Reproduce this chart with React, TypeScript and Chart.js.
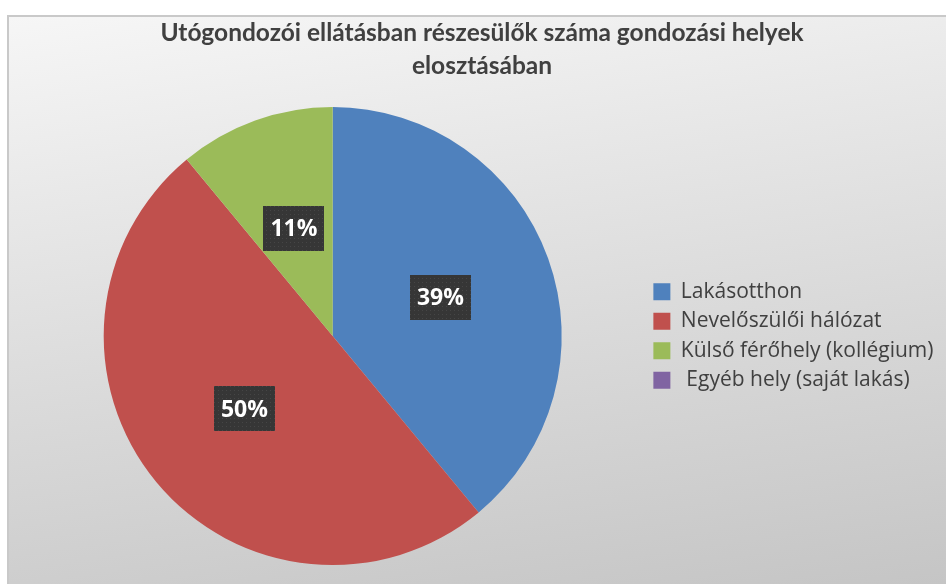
import React, { useEffect, useRef } from "react";
import { Chart, registerables } from "chart.js";

Chart.register(...registerables);

const titleLines = [
  "Utógondozói ellátásban részesülők száma gondozási helyek",
  "elosztásában",
];
const categories = [
  "Lakásotthon",
  "Nevelőszülői hálózat",
  "Külső férőhely (kollégium)",
  " Egyéb hely (saját lakás)",
];
const shares = [39, 50, 11, 0];
const sliceColors = ["#4F81BD", "#C0504D", "#9BBB59", "#8064A2"];

const labelBoxPlugin = {
  id: "labelBoxes",
  afterDatasetsDraw(chart: any) {
    const ctx = chart.ctx as CanvasRenderingContext2D;
    const meta = chart.getDatasetMeta(0);
    const data = chart.data.datasets[0].data as number[];
    const total = data.reduce((a, b) => a + b, 0);
    const pc = document.createElement("canvas");
    pc.width = 4;
    pc.height = 4;
    const pctx = pc.getContext("2d")!;
    pctx.fillStyle = "#363636";
    pctx.fillRect(0, 0, 4, 4);
    pctx.fillStyle = "#464646";
    pctx.fillRect(1, 1, 1, 1);
    const pattern = ctx.createPattern(pc, "repeat")!;
    ctx.save();
    ctx.font = "bold 23px 'Open Sans'";
    ctx.textAlign = "center";
    ctx.textBaseline = "middle";
    meta.data.forEach((arc: any, i: number) => {
      const v = data[i];
      if (!v) return;
      const p = arc.getProps(["x", "y", "startAngle", "endAngle", "outerRadius"], true);
      const mid = (p.startAngle + p.endAngle) / 2;
      const r = p.outerRadius * 0.5;
      const x = p.x + Math.cos(mid) * r;
      const y = p.y + Math.sin(mid) * r;
      const text = Math.round((v / total) * 100) + "%";
      const w = ctx.measureText(text).width + 14;
      const h = 45;
      ctx.fillStyle = pattern;
      ctx.fillRect(Math.round(x - w / 2), Math.round(y - h / 2), Math.round(w), h);
      ctx.fillStyle = "#ffffff";
      ctx.fillText(text, x, y + 1);
    });
    ctx.restore();
  },
};

export default function App() {
  const ref = useRef<HTMLCanvasElement>(null);
  useEffect(() => {
    const chart = new Chart(ref.current!, {
      type: "pie",
      data: {
        labels: categories,
        datasets: [
          {
            data: shares,
            backgroundColor: sliceColors,
            borderWidth: 0,
          },
        ],
      },
      options: {
        animation: false,
        responsive: false,
        maintainAspectRatio: false,
        layout: { padding: { left: 11.5, right: 11.5, top: 0, bottom: 20 } },
        plugins: {
          tooltip: { enabled: false },
          title: {
            display: true,
            text: titleLines,
            color: "#404040",
            font: { family: "Lato", size: 24.5, weight: "bold", lineHeight: "33px" },
            padding: { top: 0, bottom: 24 },
          },
          legend: {
            position: "right",
            fullSize: false,
            maxWidth: 300,
            labels: {
              boxWidth: 17,
              boxHeight: 17,
              padding: 8.5,
              color: "#404040",
              font: { family: "Open Sans", size: 21 },
            },
          },
        },
      },
      plugins: [labelBoxPlugin],
    });
    return () => chart.destroy();
  }, []);

  return (
    <div
      style={{
        position: "fixed",
        left: 0,
        top: 0,
        width: 946,
        height: 584,
        overflow: "hidden",
        background: "#ffffff",
      }}
    >
      <div
        style={{
          position: "absolute",
          left: 7,
          top: 15,
          width: 946,
          height: 580,
          border: "2px solid #c9c9c9",
          background:
            "linear-gradient(172deg, #f6f6f6 0%, #e9e9e9 25%, #dadada 55%, #c4c4c4 100%)",
        }}
      >
        <canvas ref={ref} width={946} height={568} style={{ display: "block" }} />
      </div>
    </div>
  );
}
